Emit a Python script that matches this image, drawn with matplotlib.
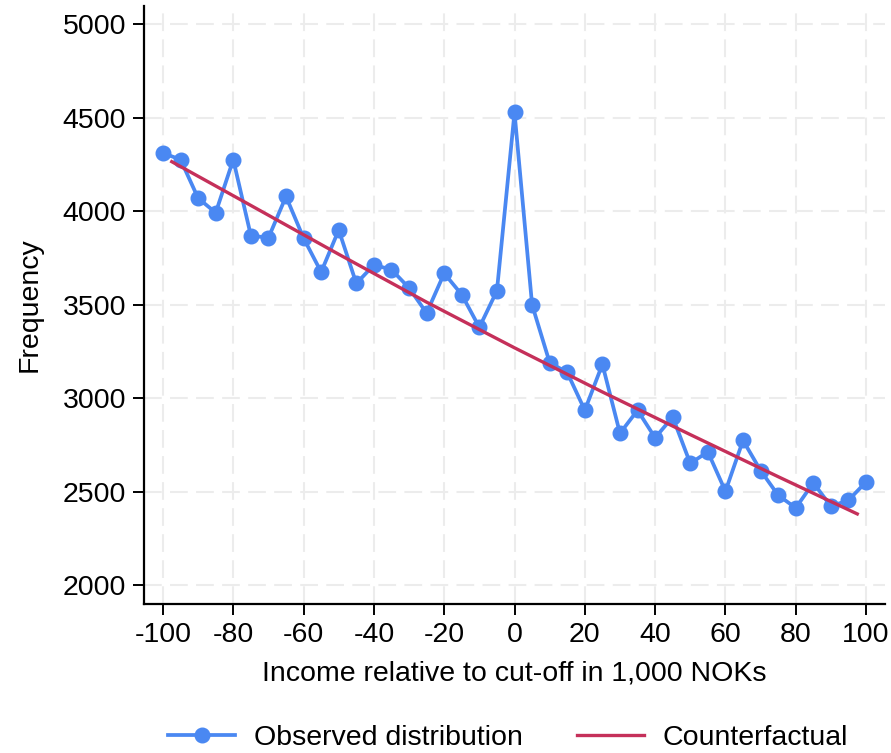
import matplotlib
matplotlib.use("Agg")
import matplotlib.pyplot as plt

plt.rcParams['font.family'] = ['Liberation Sans', 'DejaVu Sans']

# income bins relative to the cut-off (1,000 NOK)
bins = [-100, -95, -90, -85, -80, -75, -70, -65, -60, -55, -50,
        -45, -40, -35, -30, -25, -20, -15, -10, -5, 0,
        5, 10, 15, 20, 25, 30, 35, 40, 45, 50,
        55, 60, 65, 70, 75, 80, 85, 90, 95, 100]
observed = [4310, 4275, 4069, 3991, 4275, 3869, 3857, 4078, 3855, 3674, 3899,
            3613, 3712, 3687, 3589, 3455, 3667, 3553, 3378, 3574, 4527,
            3499, 3190, 3137, 2935, 3181, 2812, 2935, 2788, 2899, 2651,
            2713, 2502, 2774, 2613, 2481, 2413, 2547, 2422, 2454, 2552]

# fitted counterfactual density
cf_x = [-97.5, -75, -50, -25, 0, 25, 50, 75, 97.5]
cf_y = [4264, 4030, 3769, 3513, 3269, 3033, 2805, 2580, 2381]

xticks = list(range(-100, 101, 20))
yticks = list(range(2000, 5001, 500))

blue = '#4A88F2'
red = '#C5305A'
fs = 20.5

fig = plt.figure(figsize=(8.91, 7.53), dpi=100)
ax = fig.add_axes([0.1616, 0.198, 0.8317, 0.794])

ax.plot(bins, observed, color=blue, lw=2.7, marker='o', ms=10.5,
        label='Observed distribution', zorder=3)
ax.plot(cf_x, cf_y, color=red, lw=2.4, label='Counterfactual', zorder=4)

ax.set_xlim(-105.4, 105.4)
ax.set_ylim(1900, 5096)
ax.set_xticks(xticks)
ax.set_yticks(yticks)
ax.set_xticklabels([str(t) for t in xticks])

ax.grid(True, color='#ECECEC', lw=1.5, ls=(0, (8.5, 4)), zorder=0)
for s in ['top', 'right']:
    ax.spines[s].set_visible(False)
for s in ['left', 'bottom']:
    ax.spines[s].set_linewidth(1.6)
ax.tick_params(axis='both', direction='out', length=8, width=1.4,
               labelsize=fs, pad=5)

ax.set_xlabel('Income relative to cut-off in 1,000 NOKs', fontsize=fs, labelpad=9)
ax.set_ylabel('Frequency', fontsize=fs, labelpad=14)

leg = fig.legend(loc='center', bbox_to_anchor=(0.570, 0.020), ncol=2,
                 frameon=False, fontsize=fs, handlelength=2.35,
                 columnspacing=1.9, handletextpad=0.65)

fig.savefig('out.png', dpi=100)
